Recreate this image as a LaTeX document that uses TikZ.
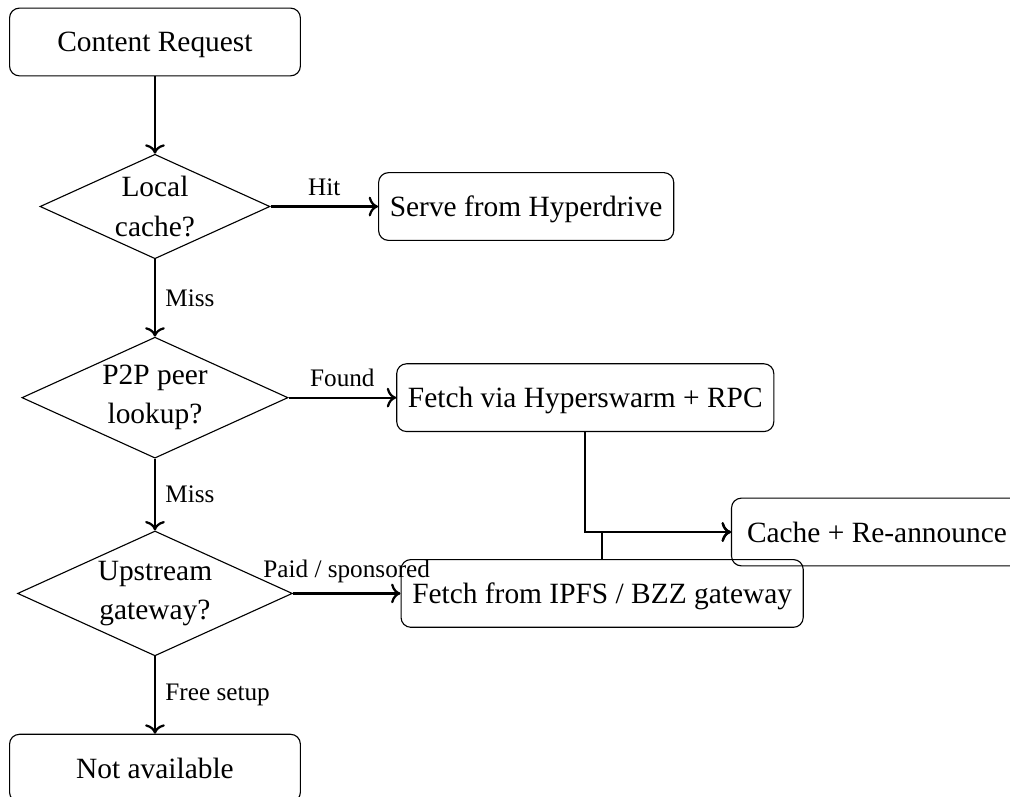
\documentclass[tikz,border=0pt]{standalone}
\usepackage{fontspec}
\setmainfont{Liberation Serif}
\usetikzlibrary{shapes.geometric, arrows.meta, positioning}

\begin{document}
\begin{tikzpicture}[
    node distance=0.97cm and 1.35cm,
    stage/.style={
        rectangle,
        rounded corners=3.5pt,
        minimum width=3.65cm,
        minimum height=0.85cm,
        inner sep=4pt,
        text depth=0pt,
        text centered,
        font=\fontsize{10.5}{14}\selectfont,
        draw
    },
    check/.style={
        diamond,
        aspect=2.2,
        inner sep=1pt,
        align=center,
        font=\fontsize{10.5}{14}\selectfont,
        draw
    },
    arrow/.style={
        ->,
        thick
    },
    edgelabel/.style={
        font=\small
    }
]

\useasboundingbox (0,0) rectangle (12.676,-10.002);

% Lookup chain
\node[stage] (req) at (1.945,-0.527) {Content Request};
\node[check, below=of req] (local) {Local\\cache?};
\node[check, below=of local] (p2p) {P2P peer\\lookup?};
\node[check, below=0.9cm of p2p] (upstream) {Upstream\\gateway?};
\node[stage, below=of upstream] (na) {Not available};

% Outcomes
\node[stage, right=of local] (serve) {Serve from Hyperdrive};
\node[stage, right=of p2p] (hyper) {Fetch via Hyperswarm + RPC};
\node[stage, right=of upstream] (ipfs) {Fetch from IPFS / BZZ gateway};
\node[stage, anchor=west] (cache) at (9.174,-6.677) {Cache + Re-announce};

% Connectors
\draw[arrow] (req) -- (local);
\draw[arrow] (local) -- node[above, edgelabel] {Hit} (serve);
\draw[arrow] (local) -- node[right, edgelabel] {Miss} (p2p);
\draw[arrow] (p2p) -- node[above, edgelabel] {Found} (hyper);
\draw[arrow] (p2p) -- node[right, edgelabel] {Miss} (upstream);
\draw[arrow] (upstream) -- node[above, edgelabel] {Paid / sponsored} (ipfs);
\draw[arrow] (upstream) -- node[right, edgelabel] {Free setup} (na);
\draw[arrow] (hyper) |- (cache);
\draw[arrow] (ipfs) |- (cache);

\end{tikzpicture}
\end{document}
